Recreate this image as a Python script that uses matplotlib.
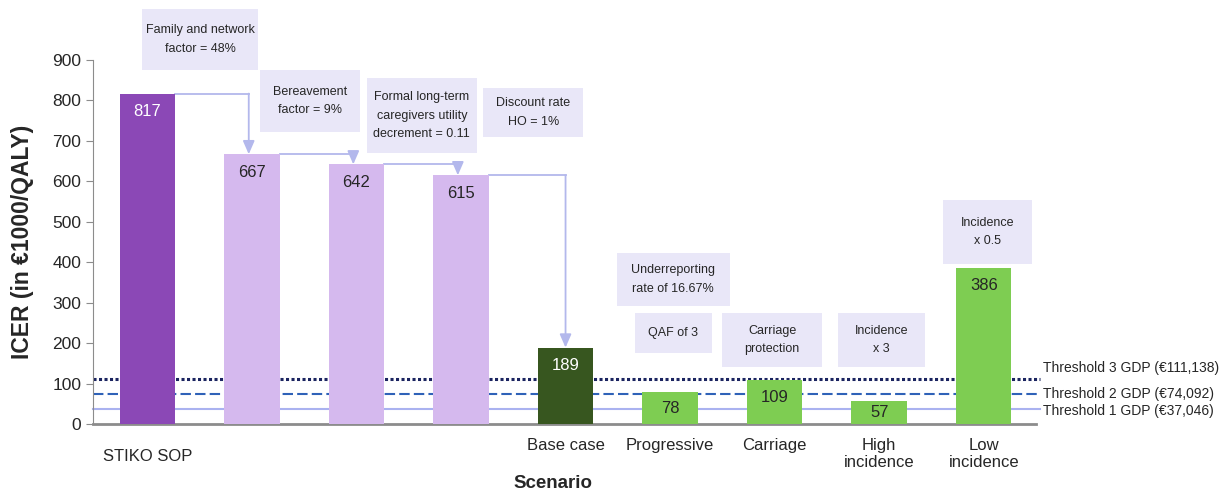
import matplotlib.pyplot as plt
from matplotlib.patches import Rectangle

# scenario ICERs (in 1000 EUR / QALY)
scenarios = ["STIKO SOP", "", "", "", "Base case", "Progressive", "Carriage",
             "High\nincidence", "Low\nincidence"]
icer = [817, 667, 642, 615, 189, 78, 109, 57, 386]
bar_colors = ["#8B48B6", "#D5B9EE", "#D5B9EE", "#D5B9EE", "#37561F",
              "#7ECD52", "#7ECD52", "#7ECD52", "#7ECD52"]
value_colors = ["white", "#262626", "#262626", "#262626", "white",
                "#262626", "#262626", "#262626", "#262626"]

# willingness-to-pay thresholds (in 1000 EUR)
thresholds = [37.046, 74.092, 111.138]
threshold_labels = ["Threshold 1 GDP (€37,046)", "Threshold 2 GDP (€74,092)",
                    "Threshold 3 GDP (€111,138)"]

# scenario notes
note_texts = ["Family and network\nfactor = 48%",
              "Bereavement\nfactor = 9%",
              "Formal long-term\ncaregivers utility\ndecrement = 0.11",
              "Discount rate\nHO = 1%",
              "Underreporting\nrate of 16.67%",
              "QAF of 3",
              "Carriage\nprotection",
              "Incidence\nx 3",
              "Incidence\nx 0.5"]

# note boxes: (x0, x1, y0, y1) in bar-index / ICER units
note_boxes = [(-0.05, 1.06, 875, 1026), (1.08, 2.03, 722, 875),
              (2.10, 3.15, 670, 855), (3.21, 4.17, 710, 831),
              (4.49, 5.57, 292, 423), (4.66, 5.40, 176, 274),
              (5.50, 6.45, 141, 274), (6.61, 7.44, 141, 274),
              (7.61, 8.46, 396, 554)]

threshold_styles = [("#AAB2F0", "-", 1.5), ("#2F62B8", (0, (5, 2)), 1.5),
                    ("#1B2460", (0, (1, 0.8)), 2.2)]
threshold_label_y = [32, 74, 138]

plt.rcParams["font.family"] = ["Liberation Sans", "DejaVu Sans"]

fig = plt.figure(figsize=(12.2, 4.95), dpi=100)
ax = fig.add_axes([0.0762, 0.1434, 0.7730, 0.7354])

x = list(range(len(icer)))
width = 0.53

for t, (c, ls, lw) in zip(thresholds, threshold_styles):
    ax.axhline(t, color=c, linestyle=ls, linewidth=lw, zorder=1, xmax=1.004,
               clip_on=False)
ax.bar(x, icer, width=width, color=bar_colors, zorder=3)

for xi, v, tc in zip(x, icer, value_colors):
    ax.text(xi, v - min(44, v / 2), str(v), ha="center", va="center",
            fontsize=12, color=tc, zorder=4)

# step connectors from one scenario to the next
arrow_color = "#B3B8EC"
steps = [(0, 1), (1, 2), (2, 3), (3, 4)]
for a, b in steps:
    y0 = icer[a]
    xs = x[a] + width / 2
    xe = x[b] - 0.03 if b < 4 else x[b]
    ax.plot([xs, xe], [y0, y0], color=arrow_color, lw=1.3, zorder=2)
    ax.annotate("", xy=(xe, icer[b]), xytext=(xe, y0),
                arrowprops=dict(arrowstyle="-|>,head_width=0.35,head_length=0.8",
                                color=arrow_color, lw=1.3, shrinkA=0, shrinkB=0),
                zorder=2)

for txt, (x0, x1, y0, y1) in zip(note_texts, note_boxes):
    ax.add_patch(Rectangle((x0, y0), x1 - x0, y1 - y0, fc="#E9E7F8", ec="none",
                           zorder=5, clip_on=False))
    ax.text((x0 + x1) / 2, (y0 + y1) / 2, txt, ha="center", va="center",
            fontsize=9, color="#262626", linespacing=1.75, zorder=6,
            clip_on=False)

for ly, lab in zip(threshold_label_y, threshold_labels):
    ax.text(1.007, ly, lab, transform=ax.get_yaxis_transform(),
            ha="left", va="center", fontsize=10, color="#262626")

ax.set_xlim(-0.52, 8.5)
ax.set_ylim(0, 900)
ax.set_yticks(range(0, 901, 100))
ax.set_xticks(x)
ax.set_xticklabels(scenarios)
ax.tick_params(axis="x", length=0, pad=10, labelsize=12, labelcolor="#262626")
ax.tick_params(axis="y", direction="out", length=5, color="#8C8C8C",
               labelsize=12.5, labelcolor="#262626")
ax.get_xticklabels()[0].set_y(-0.03)

for s in ["top", "right"]:
    ax.spines[s].set_visible(False)
ax.spines["left"].set_color("#8C8C8C")
ax.spines["bottom"].set_color("#8C8C8C")
ax.spines["bottom"].set_linewidth(2)

ax.set_ylabel("ICER (in €1000/QALY)", fontsize=16.5, fontweight="bold",
              color="#262626")
ax.yaxis.set_label_coords(-0.063, 0.5)
fig.text(0.453, 0.006, "Scenario", ha="center", va="bottom", fontsize=13.5,
         fontweight="bold", color="#262626")

fig.savefig("out.png", dpi=100)
